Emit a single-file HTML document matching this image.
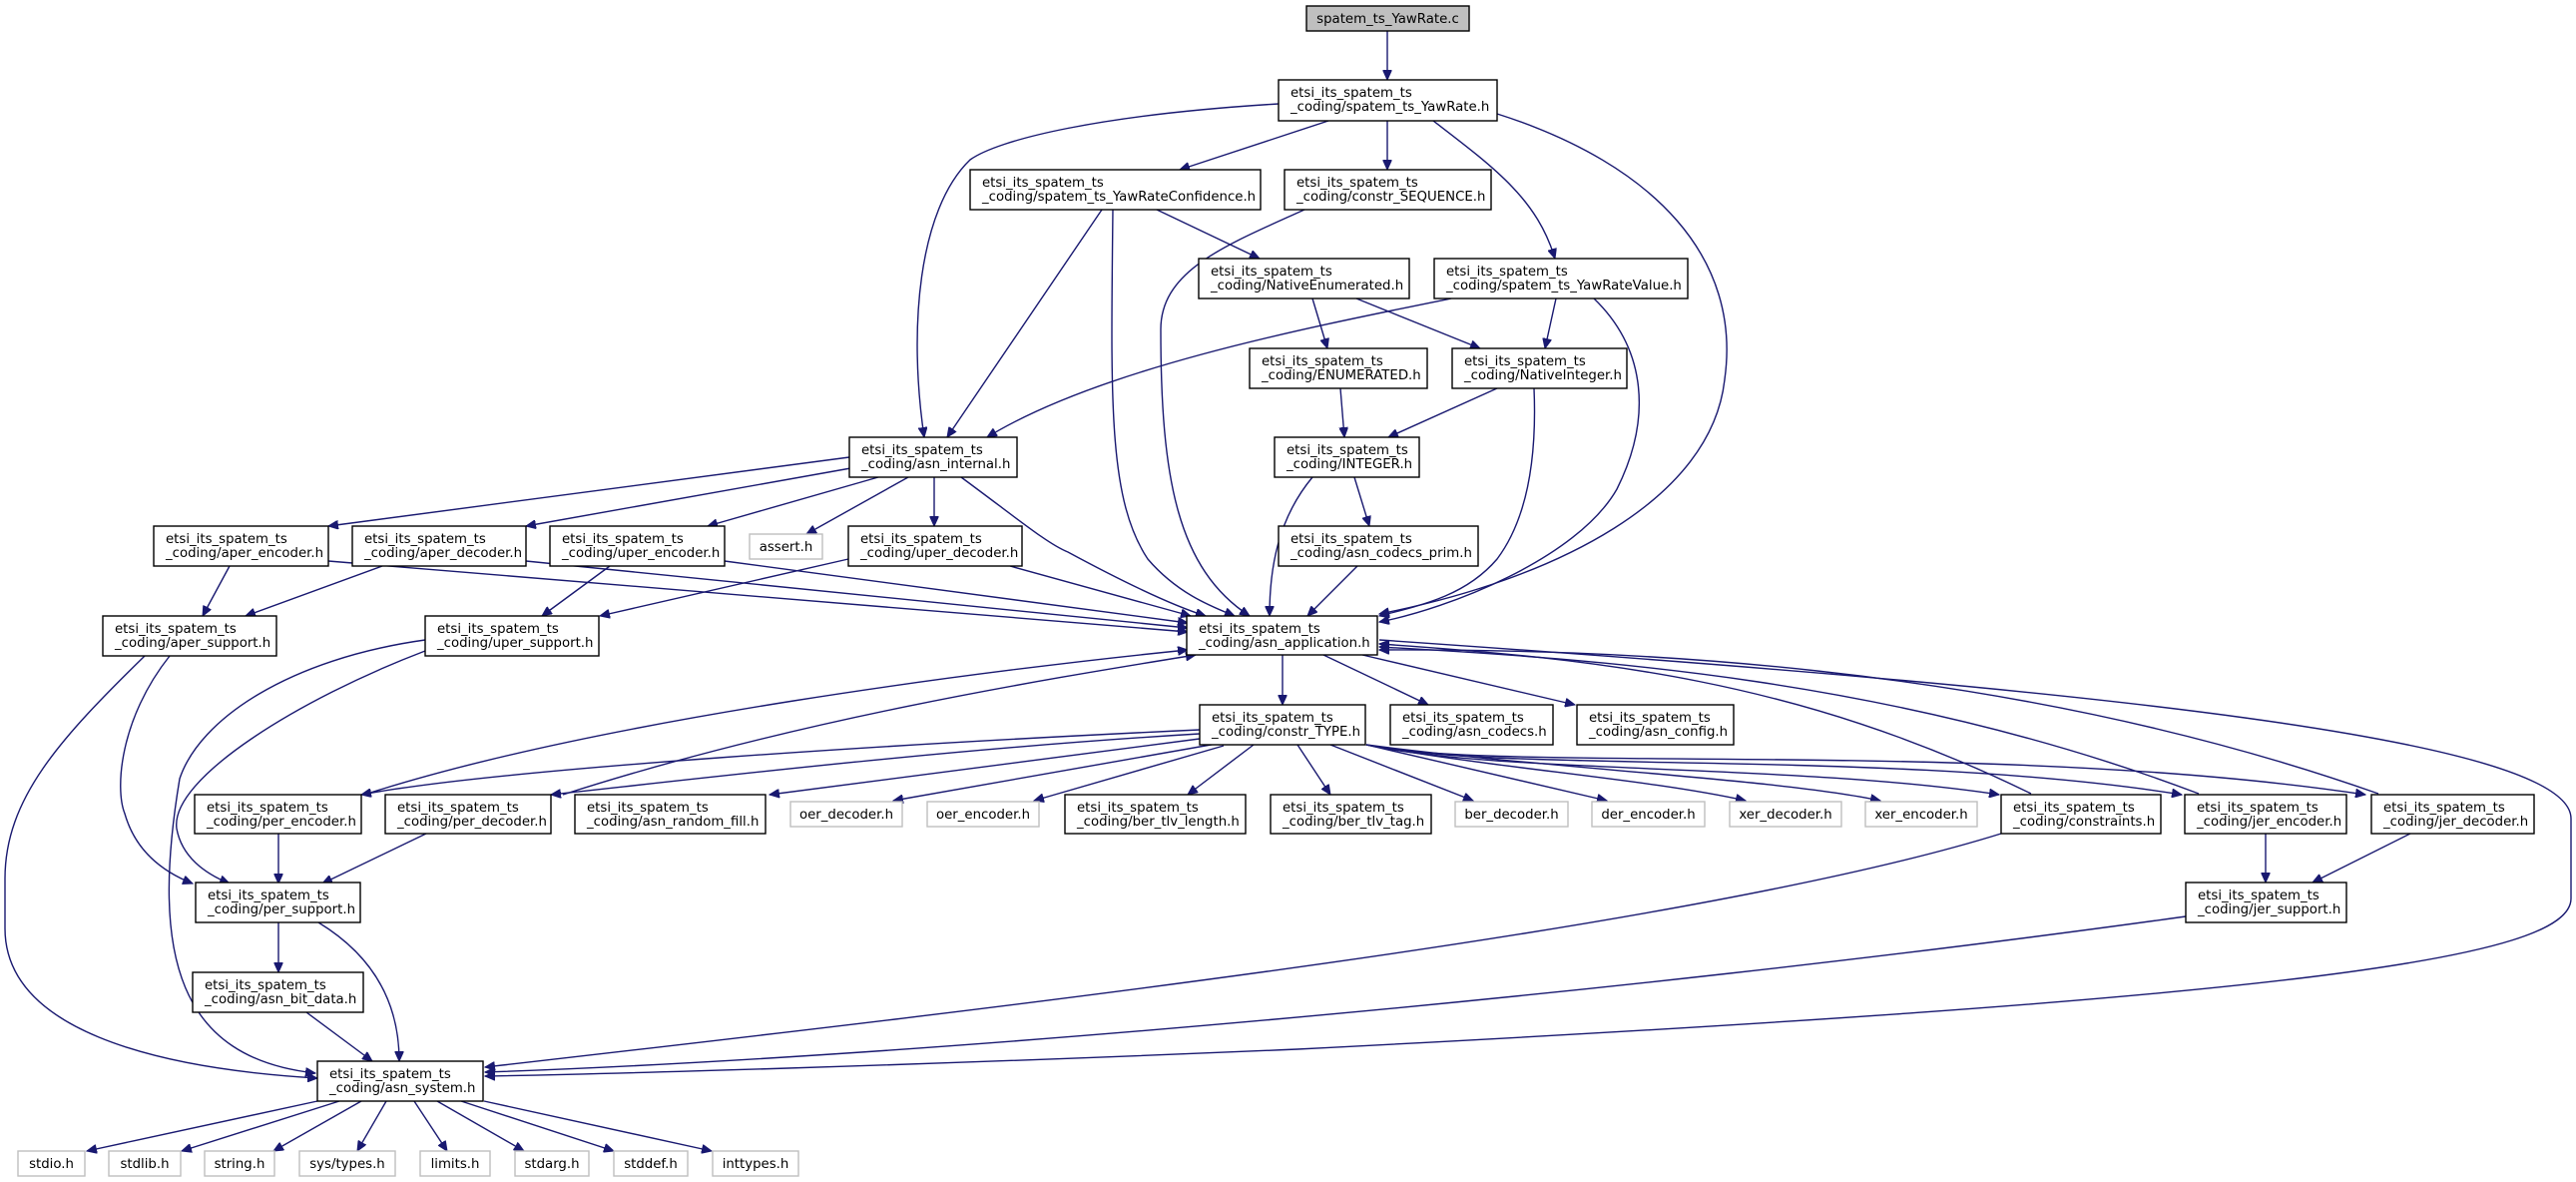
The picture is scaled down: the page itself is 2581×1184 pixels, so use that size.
<!DOCTYPE html>
<html><head><meta charset="utf-8"><style>
html,body{margin:0;padding:0;background:#fff}
svg{display:block}
text{font-family:"DejaVu Sans","Liberation Sans",sans-serif;font-size:13.3px;fill:#000}
.e{fill:none;stroke:#191970;stroke-width:1.4}
.b{fill:#fff;stroke:#000;stroke-width:1.4}
.g{fill:#fff;stroke:#bfbfbf;stroke-width:1.4}
</style></head><body>
<svg width="2581" height="1184" viewBox="0 0 2581 1184" xmlns="http://www.w3.org/2000/svg">
<defs><marker id="a" markerUnits="userSpaceOnUse" markerWidth="11" markerHeight="9" refX="10" refY="4.5" orient="auto"><path d="M0,0 L10,4.5 L0,9 z" fill="#191970" stroke="#191970"/></marker></defs>
<g class="e" marker-end="url(#a)">
<path d="M1390,31 L1390,80"/>
<path d="M1281,104 C1100,115 1000,140 972,160 C920,210 910,330 926,438"/>
<path d="M1331,121 L1182,170"/>
<path d="M1390,121 L1390,170"/>
<path d="M1436,121 C1500,170 1540,200 1558,259"/>
<path d="M1500,114 C1660,165 1745,260 1728,380 C1715,500 1560,580 1382,615"/>
<path d="M1104,210 L949,438"/>
<path d="M1115,210 C1113,400 1110,500 1150,560 C1180,595 1215,608 1237,617"/>
<path d="M1159,210 L1262,259"/>
<path d="M1307,210 C1230,245 1163,270 1163,330 C1163,480 1180,570 1252,617"/>
<path d="M1315,299 L1330,349"/>
<path d="M1359,299 L1483,349"/>
<path d="M1454,299 C1300,330 1100,370 989,438"/>
<path d="M1559,299 L1548,349"/>
<path d="M1597,299 C1650,350 1655,420 1620,490 C1580,560 1450,610 1382,623"/>
<path d="M1343,389 L1347,438"/>
<path d="M1500,389 L1391,438"/>
<path d="M1537,389 C1540,460 1530,520 1500,560 C1470,595 1430,605 1382,617"/>
<path d="M1315,478 C1280,520 1272,570 1272,617"/>
<path d="M1357,478 L1372,527"/>
<path d="M1360,567 L1310,617"/>
<path d="M851,458 L329,527"/>
<path d="M858,468 L527,527"/>
<path d="M880,478 L709,527"/>
<path d="M910,478 L808,535"/>
<path d="M936,478 L936,527"/>
<path d="M963,478 C1020,520 1050,545 1070,553 C1120,580 1170,605 1208,617"/>
<path d="M230,567 L203,617"/>
<path d="M329,562 L1190,633"/>
<path d="M383,567 L246,617"/>
<path d="M527,562 L1190,629"/>
<path d="M611,567 L543,617"/>
<path d="M726,562 L1190,624"/>
<path d="M850,560 L601,617"/>
<path d="M1012,567 L1193,617"/>
<path d="M170,657 C120,720 115,790 125,815 C135,850 160,872 193,885"/>
<path d="M145,657 C60,740 5,800 5,880 L5,930 C5,1030 150,1070 318,1080"/>
<path d="M426,652 C300,700 170,780 177,830 C182,858 205,875 230,885"/>
<path d="M426,641 C290,660 200,720 180,780 C150,960 180,1060 316,1075"/>
<path d="M279,835 L279,885"/>
<path d="M427,835 L323,885"/>
<path d="M279,924 L279,974"/>
<path d="M319,924 C370,955 400,1000 400,1063"/>
<path d="M307,1014 L373,1063"/>
<path d="M318,1103 L87,1153"/>
<path d="M340,1103 L182,1153"/>
<path d="M362,1103 L274,1153"/>
<path d="M387,1103 L358,1153"/>
<path d="M415,1103 L448,1153"/>
<path d="M438,1103 L525,1153"/>
<path d="M462,1103 L615,1153"/>
<path d="M485,1103 L713,1153"/>
<path d="M1285,656 L1285,706"/>
<path d="M1326,656 L1431,706"/>
<path d="M1365,656 L1578,706"/>
<path d="M1382,641 C2100,690 2576,740 2576,820 L2576,900 C2576,960 2300,1000 1300,1051 C900,1068 600,1076 486,1078"/>
<path d="M2005,835 C1700,930 1000,1010 486,1069"/>
<path d="M2190,918 C1600,1000 900,1060 486,1074"/>
<path d="M2035,795 C1800,680 1600,660 1382,645"/>
<path d="M2203,795 C1900,680 1600,660 1382,648"/>
<path d="M2383,795 C2000,660 1600,650 1382,651"/>
<path d="M1202,731 C900,745 500,770 362,796"/>
<path d="M365,796 C600,720 1000,670 1190,651"/>
<path d="M1202,735 C950,750 700,780 552,796"/>
<path d="M564,796 C800,720 1050,680 1198,656"/>
<path d="M1202,740 L771,796"/>
<path d="M1219,745 L895,802"/>
<path d="M1226,747 L1036,802"/>
<path d="M1256,746 L1190,796"/>
<path d="M1300,746 L1333,796"/>
<path d="M1333,746 L1476,802"/>
<path d="M1369,746 L1610,802"/>
<path d="M1369,746 C1500,770 1650,780 1749,802"/>
<path d="M1369,746 C1550,770 1780,780 1884,802"/>
<path d="M1369,746 C1500,775 1800,765 2003,796"/>
<path d="M1369,746 C1500,775 1900,750 2186,796"/>
<path d="M1369,746 C1500,775 2000,740 2370,796"/>
<path d="M2270,835 L2270,884"/>
<path d="M2415,835 L2317,884"/>
</g>
<g>
<rect x="1309" y="6" width="163" height="25" fill="#bfbfbf" stroke="#000" stroke-width="1.4"/><text x="1390.5" y="23" text-anchor="middle">spatem_ts_YawRate.c</text>
<rect class="b" x="1281" y="80" width="219" height="41"/><text x="1293" y="97">etsi_its_spatem_ts</text><text x="1293" y="111">_coding/spatem_ts_YawRate.h</text>
<rect class="b" x="972" y="170" width="291" height="40"/><text x="984" y="187">etsi_its_spatem_ts</text><text x="984" y="201">_coding/spatem_ts_YawRateConfidence.h</text>
<rect class="b" x="1287" y="170" width="207" height="40"/><text x="1299" y="187">etsi_its_spatem_ts</text><text x="1299" y="201">_coding/constr_SEQUENCE.h</text>
<rect class="b" x="1201" y="259" width="211" height="40"/><text x="1213" y="276">etsi_its_spatem_ts</text><text x="1213" y="290">_coding/NativeEnumerated.h</text>
<rect class="b" x="1437" y="259" width="254" height="40"/><text x="1449" y="276">etsi_its_spatem_ts</text><text x="1449" y="290">_coding/spatem_ts_YawRateValue.h</text>
<rect class="b" x="1252" y="349" width="178" height="40"/><text x="1264" y="366">etsi_its_spatem_ts</text><text x="1264" y="380">_coding/ENUMERATED.h</text>
<rect class="b" x="1455" y="349" width="175" height="40"/><text x="1467" y="366">etsi_its_spatem_ts</text><text x="1467" y="380">_coding/NativeInteger.h</text>
<rect class="b" x="851" y="438" width="168" height="40"/><text x="863" y="455">etsi_its_spatem_ts</text><text x="863" y="469">_coding/asn_internal.h</text>
<rect class="b" x="1277" y="438" width="145" height="40"/><text x="1289" y="455">etsi_its_spatem_ts</text><text x="1289" y="469">_coding/INTEGER.h</text>
<rect class="b" x="154" y="527" width="175" height="40"/><text x="166" y="544">etsi_its_spatem_ts</text><text x="166" y="558">_coding/aper_encoder.h</text>
<rect class="b" x="353" y="527" width="174" height="40"/><text x="365" y="544">etsi_its_spatem_ts</text><text x="365" y="558">_coding/aper_decoder.h</text>
<rect class="b" x="551" y="527" width="175" height="40"/><text x="563" y="544">etsi_its_spatem_ts</text><text x="563" y="558">_coding/uper_encoder.h</text>
<rect class="g" x="751" y="535" width="73" height="25"/><text x="787.5" y="552" text-anchor="middle">assert.h</text>
<rect class="b" x="850" y="527" width="174" height="40"/><text x="862" y="544">etsi_its_spatem_ts</text><text x="862" y="558">_coding/uper_decoder.h</text>
<rect class="b" x="1281" y="527" width="200" height="40"/><text x="1293" y="544">etsi_its_spatem_ts</text><text x="1293" y="558">_coding/asn_codecs_prim.h</text>
<rect class="b" x="103" y="617" width="174" height="40"/><text x="115" y="634">etsi_its_spatem_ts</text><text x="115" y="648">_coding/aper_support.h</text>
<rect class="b" x="426" y="617" width="174" height="40"/><text x="438" y="634">etsi_its_spatem_ts</text><text x="438" y="648">_coding/uper_support.h</text>
<rect class="b" x="1189" y="617" width="191" height="39"/><text x="1201" y="634">etsi_its_spatem_ts</text><text x="1201" y="648">_coding/asn_application.h</text>
<rect class="b" x="1202" y="706" width="166" height="40"/><text x="1214" y="723">etsi_its_spatem_ts</text><text x="1214" y="737">_coding/constr_TYPE.h</text>
<rect class="b" x="1393" y="706" width="163" height="40"/><text x="1405" y="723">etsi_its_spatem_ts</text><text x="1405" y="737">_coding/asn_codecs.h</text>
<rect class="b" x="1580" y="706" width="157" height="40"/><text x="1592" y="723">etsi_its_spatem_ts</text><text x="1592" y="737">_coding/asn_config.h</text>
<rect class="b" x="195" y="796" width="167" height="39"/><text x="207" y="813">etsi_its_spatem_ts</text><text x="207" y="827">_coding/per_encoder.h</text>
<rect class="b" x="386" y="796" width="166" height="39"/><text x="398" y="813">etsi_its_spatem_ts</text><text x="398" y="827">_coding/per_decoder.h</text>
<rect class="b" x="576" y="796" width="191" height="39"/><text x="588" y="813">etsi_its_spatem_ts</text><text x="588" y="827">_coding/asn_random_fill.h</text>
<rect class="g" x="792" y="803" width="112" height="25"/><text x="848" y="820" text-anchor="middle">oer_decoder.h</text>
<rect class="g" x="929" y="803" width="112" height="25"/><text x="985" y="820" text-anchor="middle">oer_encoder.h</text>
<rect class="b" x="1067" y="796" width="181" height="39"/><text x="1079" y="813">etsi_its_spatem_ts</text><text x="1079" y="827">_coding/ber_tlv_length.h</text>
<rect class="b" x="1273" y="796" width="161" height="39"/><text x="1285" y="813">etsi_its_spatem_ts</text><text x="1285" y="827">_coding/ber_tlv_tag.h</text>
<rect class="g" x="1458" y="803" width="113" height="25"/><text x="1514.5" y="820" text-anchor="middle">ber_decoder.h</text>
<rect class="g" x="1595" y="803" width="113" height="25"/><text x="1651.5" y="820" text-anchor="middle">der_encoder.h</text>
<rect class="g" x="1733" y="803" width="112" height="25"/><text x="1789" y="820" text-anchor="middle">xer_decoder.h</text>
<rect class="g" x="1869" y="803" width="112" height="25"/><text x="1925" y="820" text-anchor="middle">xer_encoder.h</text>
<rect class="b" x="2005" y="796" width="160" height="39"/><text x="2017" y="813">etsi_its_spatem_ts</text><text x="2017" y="827">_coding/constraints.h</text>
<rect class="b" x="2189" y="796" width="162" height="39"/><text x="2201" y="813">etsi_its_spatem_ts</text><text x="2201" y="827">_coding/jer_encoder.h</text>
<rect class="b" x="2376" y="796" width="163" height="39"/><text x="2388" y="813">etsi_its_spatem_ts</text><text x="2388" y="827">_coding/jer_decoder.h</text>
<rect class="b" x="196" y="884" width="165" height="40"/><text x="208" y="901">etsi_its_spatem_ts</text><text x="208" y="915">_coding/per_support.h</text>
<rect class="b" x="2190" y="884" width="161" height="40"/><text x="2202" y="901">etsi_its_spatem_ts</text><text x="2202" y="915">_coding/jer_support.h</text>
<rect class="b" x="193" y="974" width="171" height="40"/><text x="205" y="991">etsi_its_spatem_ts</text><text x="205" y="1005">_coding/asn_bit_data.h</text>
<rect class="b" x="318" y="1063" width="166" height="40"/><text x="330" y="1080">etsi_its_spatem_ts</text><text x="330" y="1094">_coding/asn_system.h</text>
<rect class="g" x="18" y="1153" width="67" height="25"/><text x="51.5" y="1170" text-anchor="middle">stdio.h</text>
<rect class="g" x="109" y="1153" width="72" height="25"/><text x="145" y="1170" text-anchor="middle">stdlib.h</text>
<rect class="g" x="205" y="1153" width="70" height="25"/><text x="240" y="1170" text-anchor="middle">string.h</text>
<rect class="g" x="300" y="1153" width="96" height="25"/><text x="348" y="1170" text-anchor="middle">sys/types.h</text>
<rect class="g" x="421" y="1153" width="70" height="25"/><text x="456" y="1170" text-anchor="middle">limits.h</text>
<rect class="g" x="516" y="1153" width="74" height="25"/><text x="553" y="1170" text-anchor="middle">stdarg.h</text>
<rect class="g" x="615" y="1153" width="74" height="25"/><text x="652" y="1170" text-anchor="middle">stddef.h</text>
<rect class="g" x="714" y="1153" width="86" height="25"/><text x="757" y="1170" text-anchor="middle">inttypes.h</text>
</g>
</svg>
</body></html>
